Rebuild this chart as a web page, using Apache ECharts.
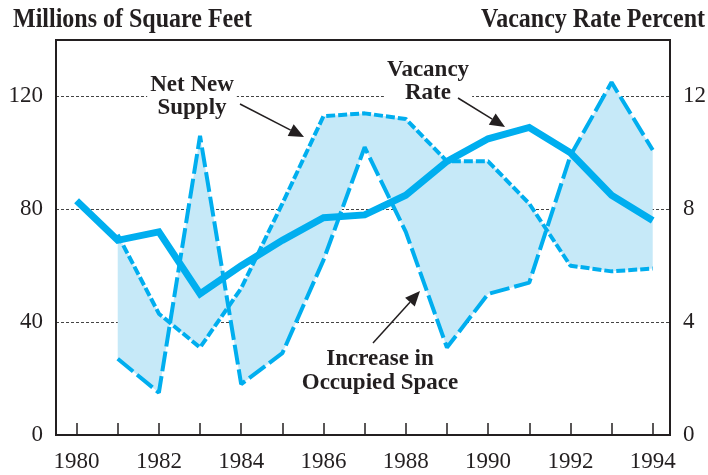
<!DOCTYPE html>
<html>
<head>
<meta charset="UTF-8">
<title></title>
<script src="https://cdn.jsdelivr.net/npm/echarts@6/dist/echarts.min.js"></script>
<style>
  html, body { margin: 0; padding: 0; background: #fff; }
  #chart { width: 708px; height: 475px; }
</style>
</head>
<body>
<div id="chart"></div>
<script>
var years = [1980, 1981, 1982, 1983, 1984, 1985, 1986, 1987, 1988, 1989, 1990, 1991, 1992, 1993, 1994];
var vacancyRate = [8.3, 6.9, 7.2, 5.0, 6.0, 6.9, 7.7, 7.8, 8.5, 9.7, 10.5, 10.9, 10.0, 8.5, 7.6];

var flowYears = [1981, 1982, 1983, 1984, 1985, 1986, 1987, 1988, 1989, 1990, 1991, 1992, 1993, 1994];
var netNewSupply = [71, 43, 31, 52, 82, 113, 114, 112, 97, 97, 82, 60, 58, 59];
var occupiedIncrease = [27, 15, 106, 18, 29, 62, 102, 72, 31, 50, 54, 99, 125, 101];

var xLabelYears = [1980, 1982, 1984, 1986, 1988, 1990, 1992, 1994];
var leftTicks = [0, 40, 80, 120];
var rightTicks = [0, 4, 8, 12];

var blue = '#00aeef';
var ink = '#231f20';
var serif = 'Liberation Serif';

function pairs(xs, ys) {
  var out = [];
  for (var i = 0; i < xs.length; i++) out.push([xs[i], ys[i]]);
  return out;
}

// line with a filled triangle head at (x2, y2)
function arrow(x1, y1, x2, y2) {
  var dx = x2 - x1, dy = y2 - y1;
  var len = Math.sqrt(dx * dx + dy * dy);
  var ux = dx / len, uy = dy / len;
  var bx = x2 - ux * 15, by = y2 - uy * 15;
  var px = -uy * 6.5, py = ux * 6.5;
  return [
    { type: 'line', shape: { x1: x1, y1: y1, x2: bx, y2: by }, style: { stroke: ink, lineWidth: 1.5 }, z: 50 },
    { type: 'polygon', shape: { points: [[x2, y2], [bx + px, by + py], [bx - px, by - py]] }, style: { fill: ink }, z: 50 }
  ];
}

var chart = echarts.init(document.getElementById('chart'));

var labelFont = { color: ink, fontFamily: serif, fontSize: 23 };

var option = {
  backgroundColor: '#fff',
  animation: false,
  grid: {
    left: 56, right: 38, top: 40, bottom: 40,
    show: true, borderColor: ink, borderWidth: 2,
    outerBoundsMode: 'none'
  },
  xAxis: {
    type: 'value', min: 1979.5, max: 1994.42,
    axisLine: { lineStyle: { color: ink, width: 2 } },
    axisTick: { inside: true, length: 12, customValues: years, lineStyle: { color: ink, width: 1.5 } },
    axisLabel: Object.assign({ customValues: xLabelYears, margin: 15, formatter: function (v) { return String(v); } }, labelFont),
    splitLine: { show: false }
  },
  yAxis: [
    {
      type: 'value', min: 0, max: 140, position: 'left',
      axisLine: { show: true, lineStyle: { color: ink, width: 2 } },
      axisTick: { show: false, customValues: leftTicks },
      axisLabel: Object.assign({ customValues: leftTicks, margin: 13 }, labelFont),
      splitLine: { show: true, lineStyle: { color: '#444', width: 1, type: [3, 2] } }
    },
    {
      type: 'value', min: 0, max: 14, position: 'right',
      axisLine: { show: true, lineStyle: { color: ink, width: 2 } },
      axisTick: { show: false, customValues: rightTicks },
      axisLabel: Object.assign({ customValues: rightTicks, margin: 13 }, labelFont),
      splitLine: { show: false }
    }
  ],
  series: [
    {
      name: 'band',
      type: 'custom',
      coordinateSystem: 'cartesian2d',
      silent: true,
      z: 1,
      clip: false,
      data: [[flowYears[0], netNewSupply[0]]],
      renderItem: function (params, api) {
        var pts = [];
        for (var i = 0; i < flowYears.length; i++) pts.push(api.coord([flowYears[i], netNewSupply[i]]));
        for (var j = flowYears.length - 1; j >= 0; j--) pts.push(api.coord([flowYears[j], occupiedIncrease[j]]));
        return { type: 'polygon', shape: { points: pts }, style: { fill: '#c6e9f8' } };
      }
    },
    {
      name: 'Net New Supply',
      type: 'line',
      z: 3,
      symbol: 'none',
      data: pairs(flowYears, netNewSupply),
      lineStyle: { color: blue, width: 4, type: [9, 3] }
    },
    {
      name: 'Increase in Occupied Space',
      type: 'line',
      z: 3,
      symbol: 'none',
      data: pairs(flowYears, occupiedIncrease),
      lineStyle: { color: blue, width: 4, type: [20, 5] }
    },
    {
      name: 'Vacancy Rate',
      type: 'line',
      yAxisIndex: 1,
      z: 4,
      symbol: 'none',
      data: pairs(years, vacancyRate),
      lineStyle: { color: blue, width: 7, join: 'miter' }
    }
  ],
  graphic: [
    { type: 'text', left: 13, top: 7, scaleY: 1.1, style: { text: 'Millions of Square Feet', font: 'bold 24px "Liberation Serif"', fill: ink } },
    { type: 'text', right: 3, top: 7, scaleY: 1.1, style: { text: 'Vacancy Rate Percent', font: 'bold 24px "Liberation Serif"', fill: ink } },
    { type: 'text', x: 192, y: 97, z: 40, style: { text: 'Net New\nSupply', font: 'bold 23px "Liberation Serif"', fill: ink, align: 'center', verticalAlign: 'middle', lineHeight: 23, backgroundColor: '#fff', padding: [0, 3] } },
    { type: 'text', x: 428, y: 82, z: 40, style: { text: 'Vacancy\nRate', font: 'bold 23px "Liberation Serif"', fill: ink, align: 'center', verticalAlign: 'middle', lineHeight: 23, backgroundColor: '#fff', padding: [0, 3] } },
    { type: 'text', x: 380, y: 371, z: 40, style: { text: 'Increase in\nOccupied Space', font: 'bold 23px "Liberation Serif"', fill: ink, align: 'center', verticalAlign: 'middle', lineHeight: 24 } }
  ].concat(arrow(240, 104, 304, 137), arrow(458, 98, 505, 127), arrow(373, 343, 420, 291))
};

chart.setOption(option);
</script>
</body>
</html>
